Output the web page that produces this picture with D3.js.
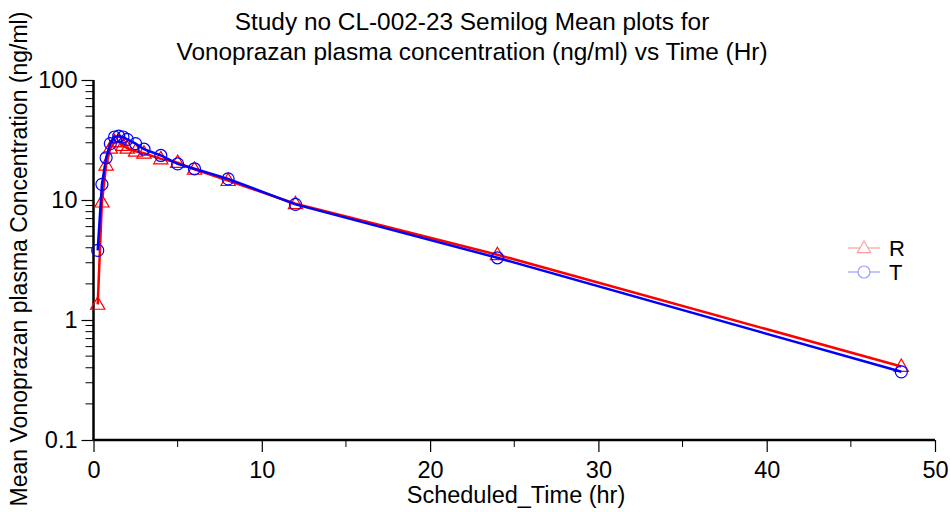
<!DOCTYPE html>
<html>
<head>
<meta charset="utf-8">
<script src="https://cdn.jsdelivr.net/npm/d3@7"></script>
<style>
  body { margin: 0; background: #fff; }
  svg { font-family: "Liberation Sans", Arial, sans-serif; }
</style>
</head>
<body>
<div id="chart"></div>
<script>
// tiempos y concentraciones medias
const times = [0.25, 0.5, 0.75, 1, 1.25, 1.5, 1.75, 2, 2.5, 3, 4, 5, 6, 8, 12, 24, 48];
const concR = [1.35, 9.6, 19.5, 27, 30.5, 30.5, 28.5, 27, 25.5, 24.5, 22, 20.5, 18, 14.5, 9.3, 3.5, 0.41];
const concT = [3.8, 13.5, 22.5, 29.5, 33.5, 34, 33.5, 32, 29.5, 26.5, 23.5, 20, 18.2, 15, 9.2, 3.3, 0.37];
const xTicks = [0, 10, 20, 30, 40, 50];
const yTicks = [0.1, 1, 10, 100];
const titleLines = ["Study no CL-002-23 Semilog Mean plots for",
                    "Vonoprazan plasma concentration (ng/ml) vs Time (Hr)"];

const width = 950, height = 512;
const x0 = 93.5, x1 = 935, yTop = 80, yBot = 440;
const fs = 23.5;

const svg = d3.select("#chart").append("svg")
    .attr("width", width)
    .attr("height", height);

const x = d3.scaleLinear().domain([0, 50]).range([x0, x1]);
const y = d3.scaleLog().domain([0.1, 100]).range([yBot, yTop]);

// titulo
svg.append("g").selectAll("text")
    .data(titleLines)
    .enter().append("text")
    .attr("x", 472)
    .attr("y", (d, i) => 30 + i * 30)
    .attr("text-anchor", "middle")
    .attr("font-size", 24.4)
    .text(d => d);

// eje X
const xAxis = svg.append("g")
    .attr("transform", `translate(0,${yBot})`)
    .call(d3.axisBottom(x).tickValues(xTicks).tickSize(12).tickPadding(9).tickFormat(d3.format("d")));
xAxis.append("g").selectAll("line")
    .data(d3.range(5, 50, 10))
    .enter().append("line")
    .attr("x1", d => x(d)).attr("x2", d => x(d))
    .attr("y1", 0).attr("y2", 7)
    .attr("stroke", "#000").attr("stroke-width", 1);

// eje Y
const yAxis = svg.append("g")
    .attr("transform", `translate(${x0},0)`)
    .call(d3.axisLeft(y).tickValues(yTicks).tickSize(12).tickPadding(4).tickFormat(d => d3.format("")(d)));
const minor = [];
[0.1, 1, 10].forEach(b => { for (let k = 2; k <= 9; k++) minor.push(b * k); });
yAxis.append("g").selectAll("line")
    .data(minor)
    .enter().append("line")
    .attr("x1", -8).attr("x2", 0)
    .attr("y1", d => y(d)).attr("y2", d => y(d))
    .attr("stroke", "#000").attr("stroke-width", 1);

[xAxis, yAxis].forEach(a => {
    a.select(".domain").attr("stroke-width", 2.5);
    a.selectAll(".tick line").attr("stroke-width", 1.2);
    a.selectAll(".tick text").attr("font-size", fs).attr("fill", "#000")
        .attr("font-family", "Liberation Sans, Arial, sans-serif");
});
xAxis.select(".domain").attr("d", `M${x0},0H${x1}`);
yAxis.select(".domain").attr("d", `M0,${yBot}V${yTop}`);

// etiquetas de ejes
svg.append("text")
    .attr("x", 516).attr("y", 503)
    .attr("text-anchor", "middle")
    .attr("font-size", fs)
    .text("Scheduled_Time (hr)");
svg.append("text")
    .attr("transform", "translate(27,259) rotate(-90)")
    .attr("text-anchor", "middle")
    .attr("font-size", 23)
    .text("Mean Vonoprazan plasma Concentration (ng/ml)");

const series = [
    { name: "R", values: concR, color: "#ff0000", light: "#ff9d9d", marker: "tri" },
    { name: "T", values: concT, color: "#0000ff", light: "#9d9dff", marker: "circ" }
];

const line = d3.line().x(d => x(d[0])).y(d => y(d[1]));
const triPath = s => `M0,${-s}L${s * 0.95},${s * 0.65}L${-s * 0.95},${s * 0.65}Z`;

series.forEach(s => {
    const pts = times.map((t, i) => [t, s.values[i]]);
    svg.append("path")
        .datum(pts)
        .attr("fill", "none")
        .attr("stroke", s.color)
        .attr("stroke-width", 2.5)
        .attr("d", line);
    const g = svg.append("g");
    if (s.marker === "tri") {
        g.selectAll("path").data(pts).enter().append("path")
            .attr("transform", d => `translate(${x(d[0])},${y(d[1])})`)
            .attr("d", triPath(7.5))
            .attr("fill", "none").attr("stroke", s.color).attr("stroke-width", 1.2);
    } else {
        g.selectAll("circle").data(pts).enter().append("circle")
            .attr("cx", d => x(d[0])).attr("cy", d => y(d[1])).attr("r", 6)
            .attr("fill", "none").attr("stroke", s.color).attr("stroke-width", 1.2);
    }
});

// leyenda
const legend = svg.append("g").attr("transform", "translate(848,248)");
series.forEach((s, i) => {
    const gy = i * 24;
    legend.append("line")
        .attr("x1", 0).attr("x2", 32).attr("y1", gy).attr("y2", gy)
        .attr("stroke", s.light).attr("stroke-width", 1.2);
    if (s.marker === "tri") {
        legend.append("path").attr("transform", `translate(16,${gy})`)
            .attr("d", triPath(7)).attr("fill", "#fff").attr("stroke", s.light).attr("stroke-width", 1.2);
    } else {
        legend.append("circle").attr("cx", 16).attr("cy", gy).attr("r", 6)
            .attr("fill", "#fff").attr("stroke", s.light).attr("stroke-width", 1.2);
    }
    legend.append("text")
        .attr("x", 41).attr("y", gy + 8)
        .attr("font-size", 22)
        .text(s.name);
});
</script>
</body>
</html>
